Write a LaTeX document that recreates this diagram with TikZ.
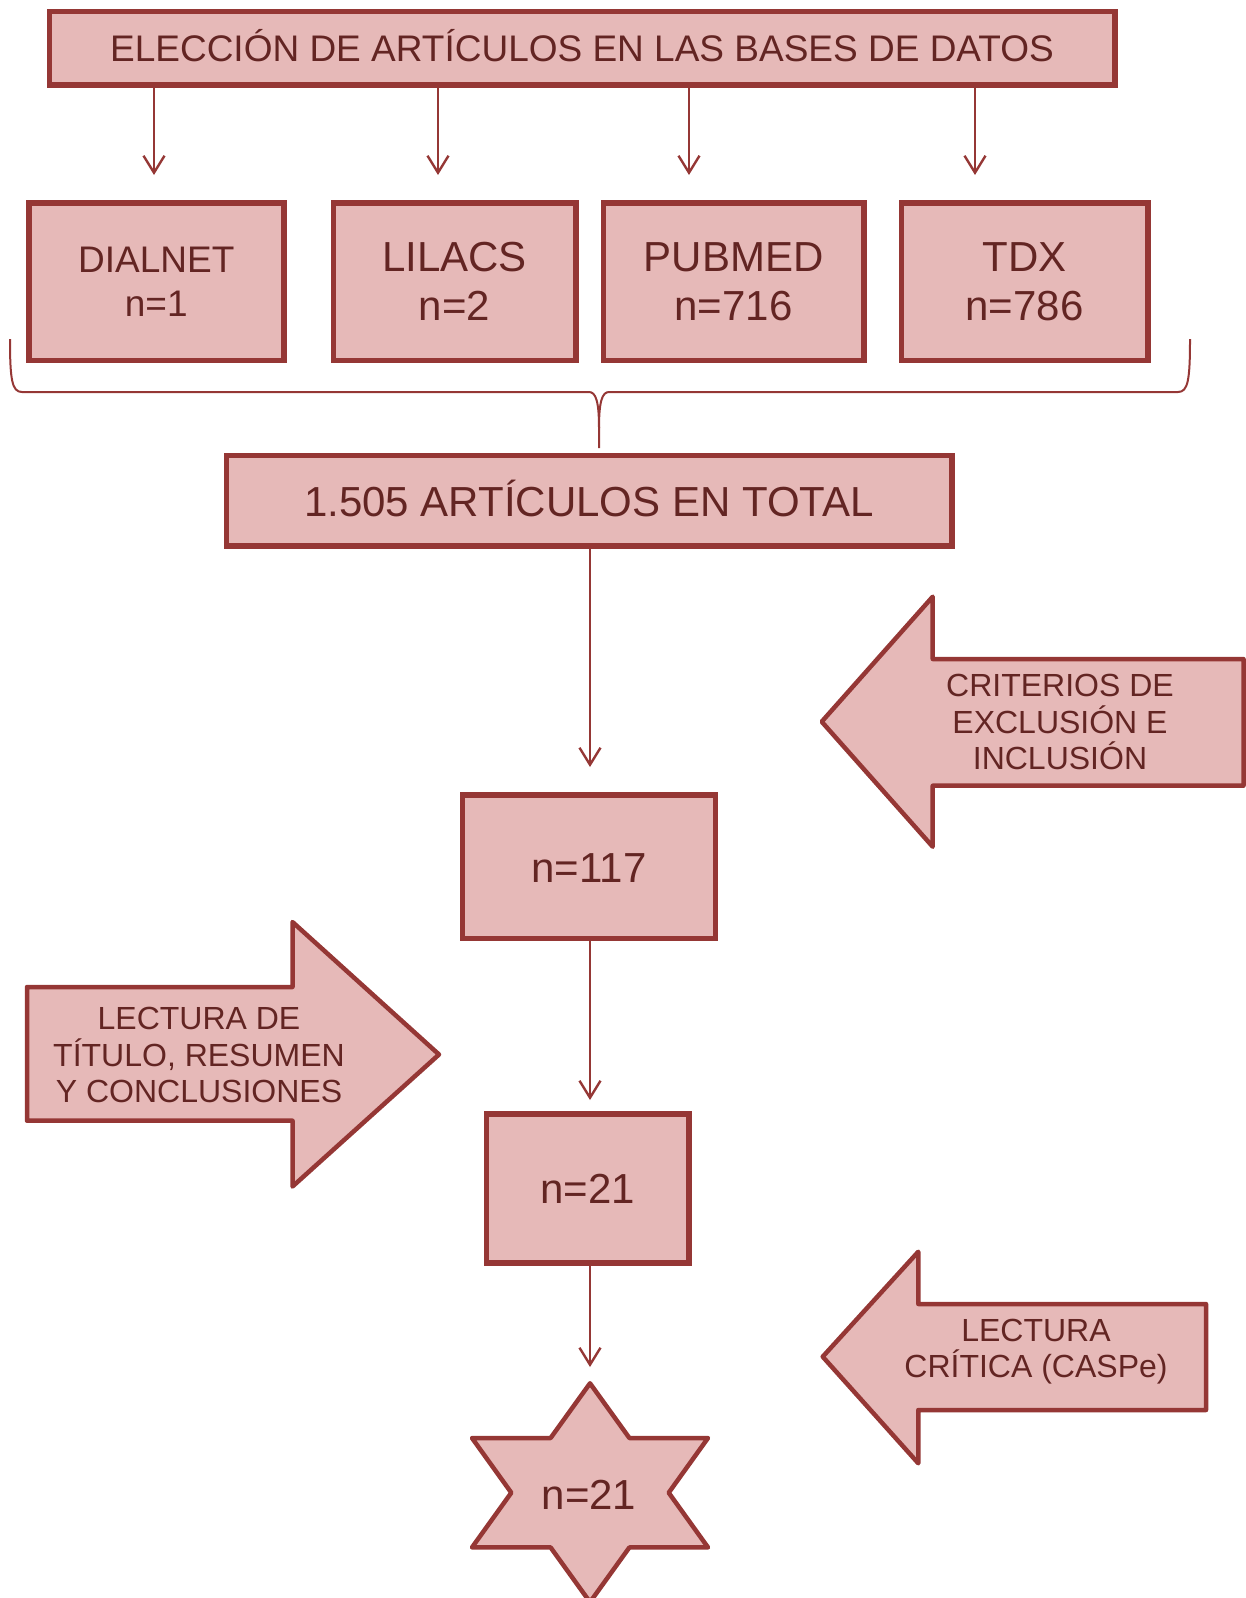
\documentclass[tikz,border=0pt]{standalone}
\usepackage{fontspec}
\setmainfont{Liberation Sans}
\usetikzlibrary{arrows.meta}
\definecolor{boxfill}{HTML}{E6B9B8}
\definecolor{boxline}{HTML}{953735}
\definecolor{boxtext}{HTML}{632523}
\begin{document}
\begin{tikzpicture}[x=1pt,y=-1pt,
  box/.style={draw=boxline, fill=boxfill, line width=5.5pt, inner sep=0pt, outer sep=0pt, text=boxtext, align=center},
  arrowshape/.style={draw=boxline, fill=boxfill, line width=4.5pt, line join=round},
  lbl/.style={text=boxtext, align=center, inner sep=0pt},
  conn/.style={draw=boxline, line width=2.4pt, -{Straight Barb[length=17pt,width=21pt]}},
  bracestyle/.style={draw=boxline, line width=2pt},
  bigfont/.style={font=\fontsize{42}{49}\selectfont},
  midfont/.style={font=\fontsize{37}{44}\selectfont},
  smallfont/.style={font=\fontsize{32}{36.7}\selectfont}]
\clip (0,0) rectangle (1246,1598);

% top box
\node[box, midfont, minimum width=1065.5pt, minimum height=73.5pt] (top) at (582,48) {\raisebox{2.5pt}[\height][\depth]{ELECCIÓN DE ARTÍCULOS EN LAS BASES DE DATOS}};

% database boxes
\node[box, midfont, minimum width=255pt, minimum height=157.5pt] (dialnet) at (156.25,281.5) {DIALNET\\n=1};
\node[box, bigfont, minimum width=242.5pt, minimum height=157.5pt] (lilacs) at (454.5,281.5) {LILACS\\n=2};
\node[box, bigfont, minimum width=260.5pt, minimum height=157.5pt] (pubmed) at (733.5,281.5) {PUBMED\\n=716};
\node[box, bigfont, minimum width=246.5pt, minimum height=157.5pt] (tdx) at (1024.5,281.5) {TDX\\n=786};

% arrows from top box
\coordinate (a1) at (154,175);
\coordinate (a2) at (438,175);
\coordinate (a3) at (689,175);
\coordinate (a4) at (975,175);
\draw[conn] (top.south -| a1) -- (a1);
\draw[conn] (top.south -| a2) -- (a2);
\draw[conn] (top.south -| a3) -- (a3);
\draw[conn] (top.south -| a4) -- (a4);

% brace
\coordinate (bl) at (10,339);
\coordinate (br) at (1190,339);
\coordinate (btip) at (599,448);
\draw[bracestyle] (bl) .. controls (10,380) and (12,392) .. (22,392) -- (589,392)
  .. controls (596,392) and (599,402) .. (599,428) -- (btip);
\draw[bracestyle] (599,428) .. controls (599,402) and (602,392) .. (609,392) -- (1178,392)
  .. controls (1188,392) and (1190,380) .. (br);

% total
\node[box, bigfont, minimum width=725.5pt, minimum height=90.5pt] (total) at (589,500.5) {\raisebox{2.5pt}[\height][\depth]{1.505 ARTÍCULOS EN TOTAL}};

% n=117
\node[box, bigfont, minimum width=253pt, minimum height=143.5pt] (n117) at (589,866.5) {\raisebox{-2pt}[\height][\depth]{n=117}};
% n=21
\node[box, bigfont, minimum width=202.5pt, minimum height=149pt] (n21) at (587.5,1188.5) {n=21};

% star
\draw[arrowshape] (590,1383.3) -- (629.4,1438) -- (708,1438) -- (668.7,1492.7) -- (708,1547.4)
  -- (629.4,1547.4) -- (590,1602.1) -- (550.6,1547.4) -- (472,1547.4) -- (511.3,1492.7)
  -- (472,1438) -- (550.6,1438) -- cycle;
\node[lbl, bigfont] (star) at (589,1495) {n=21};

% vertical connectors
\coordinate (c1) at (590,767);
\coordinate (c2) at (590,1100);
\coordinate (c3) at (590,1367);
\draw[conn] (total.south -| c1) -- (c1);
\draw[conn] (n117.south -| c2) -- (c2);
\draw[conn] (n21.south -| c3) -- (c3);

% criterios arrow (pointing left)
\draw[arrowshape] (821.7,721.7) -- (932.7,596.7) -- (932.7,659) -- (1243.5,659) -- (1243.5,785.7)
  -- (932.7,785.7) -- (932.7,846.7) -- cycle;
\node[lbl, smallfont] (crit) at (1060,722) {CRITERIOS DE\\EXCLUSIÓN E\\INCLUSIÓN};

% lectura titulo arrow (pointing right)
\draw[arrowshape] (27,987) -- (292.5,987) -- (292.5,922) -- (439,1054.5) -- (292.5,1186.5)
  -- (292.5,1120.7) -- (27,1120.7) -- cycle;
\node[lbl, smallfont] (lect) at (199,1055) {LECTURA DE\\TÍTULO, RESUMEN\\Y CONCLUSIONES};

% lectura critica arrow (pointing left)
\draw[arrowshape] (822.7,1356.7) -- (918.3,1251.7) -- (918.3,1304) -- (1206,1304) -- (1206,1410)
  -- (918.3,1410) -- (918.3,1463.3) -- cycle;
\node[lbl, smallfont] (caspe) at (1036,1351.5) {LECTURA\\CRÍTICA (CASPe)};
\end{tikzpicture}
\end{document}
